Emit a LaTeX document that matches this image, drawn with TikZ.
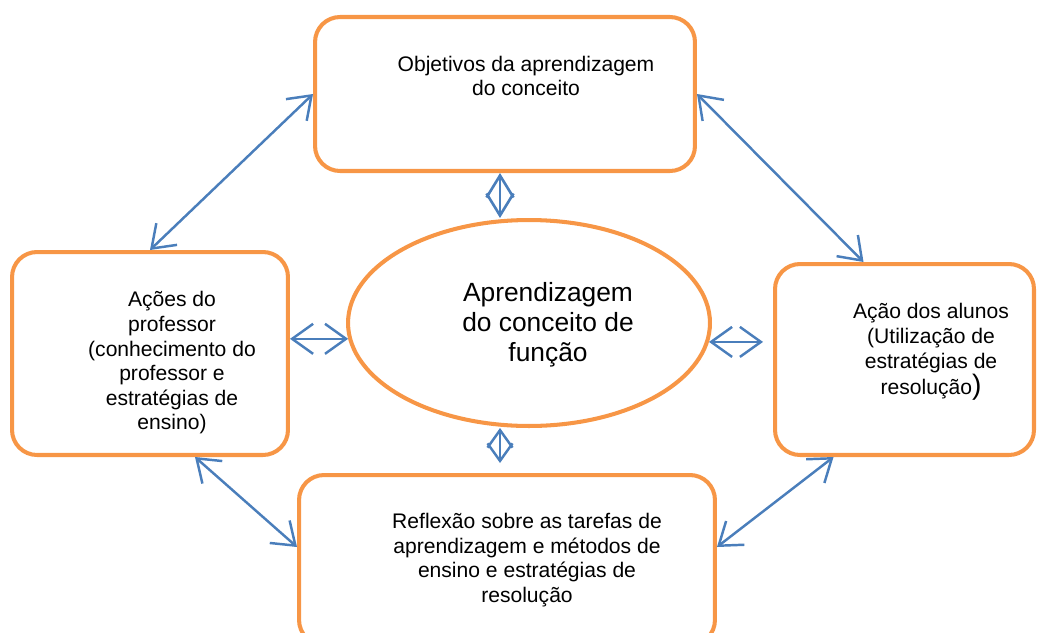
\documentclass[tikz,border=0pt]{standalone}
\usepackage{fontspec}
\setmainfont{Liberation Sans}
\usepackage{xcolor}
\usetikzlibrary{arrows.meta, positioning, shapes.geometric, calc}
\definecolor{boxorange}{HTML}{F79646}
\definecolor{linkblue}{HTML}{4A7EBB}

\begin{document}
\begin{tikzpicture}[x=0.02cm, y=-0.02cm,
  box/.style={draw=boxorange, line width=2.3pt, rounded corners=0.5cm, inner sep=0pt},
  hub/.style={draw=boxorange, line width=2.3pt, ellipse, inner sep=0pt, minimum width=7.24cm, minimum height=4.12cm},
  txt/.style={align=center, font=\fontsize{12}{14}\selectfont, inner sep=0pt},
  hubtxt/.style={align=center, font=\fontsize{15}{17}\selectfont, inner sep=0pt},
  link/.style={{Straight Barb[length=4.2mm, width=6mm]}-{Straight Barb[length=4.2mm, width=6mm]}, linkblue, line width=1.4pt},
  biglink/.style={{Straight Barb[length=4.4mm, width=5.4mm]}-{Straight Barb[length=4.4mm, width=5.4mm]}, linkblue, line width=1.5pt},
  diam/.style={{Straight Barb[length=3.5mm, width=5mm]}-{Straight Barb[length=3.5mm, width=5mm]}, linkblue, line width=1.4pt}
]
  \clip (0,0) rectangle (1037,632);

  % Boxes
  \node[box, minimum width=7.6cm, minimum height=3.08cm] (topbox) at (505,94) {};
  \node[box, minimum width=5.52cm, minimum height=4.06cm] (leftbox) at (150,353.5) {};
  \node[box, minimum width=5.18cm, minimum height=3.82cm] (rightbox) at (904.5,359.5) {};
  \node[box, minimum width=8.32cm, minimum height=3.4cm] (botbox) at (507,560) {};
  \node[hub] (ell) at (529,323) {};

  % Texts
  \node[txt] (toptxt) at (526,76) {Objetivos da aprendizagem\\do conceito};
  \node[txt] (lefttxt) at (172,363) {Ações do\\professor\\(conhecimento do\\professor e\\estratégias de\\ensino)};
  \node[txt] (righttxt) at (931,352) {Ação dos alunos\\(Utilização de\\estratégias de\\resolução{\fontsize{16}{17}\selectfont)}};
  \node[txt] (bottxt) at (527,560) {Reflexão sobre as tarefas de\\aprendizagem e métodos de\\ensino e estratégias de\\resolução};
  \node[hubtxt] (hubtext) at (548,325) {Aprendizagem\\do conceito de\\função};

  % Links to the centre
  \draw[biglink] ([xshift=-0.1cm]topbox.south) -- ([xshift=-0.1cm]topbox.south |- ell.north);
  \draw[link] (leftbox.east |- ell.185) -- (ell.185);
  \draw[link, shorten >=0.2cm] (ell.-6) -- (rightbox.west |- ell.-6);
  \draw[diam, shorten >=0.2cm] ([xshift=-0.58cm]ell.south) -- ([xshift=-0.58cm]ell.south |- botbox.north);

  % Links round the cycle
  \draw[link] (topbox.west) -- (leftbox.north);
  \draw[link] (topbox.east) -- ([xshift=-0.82cm]rightbox.north);
  \draw[link] ([xshift=0.9cm]leftbox.south) -- ([yshift=0.26cm]botbox.west);
  \draw[link] ([yshift=0.26cm]botbox.east) -- ([xshift=-1.42cm]rightbox.south);
\end{tikzpicture}
\end{document}
